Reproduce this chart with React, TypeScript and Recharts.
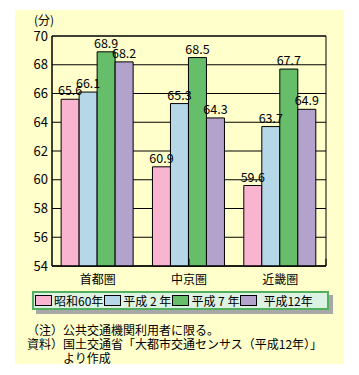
import { BarChart, Bar, XAxis, YAxis, CartesianGrid, LabelList, ReferenceArea, ReferenceLine } from 'recharts';

const regions = ['首都圏', '中京圏', '近畿圏'];
const seriesNames = ['昭和60年', '平成 2 年', '平成 7 年', '平成12年'];
const s60 = [65.6, 60.9, 59.6];
const h2 = [66.1, 65.3, 63.7];
const h7 = [68.9, 68.5, 67.7];
const h12 = [68.2, 64.3, 64.9];
const yTicks = [54, 56, 58, 60, 62, 64, 66, 68, 70];
const groupEdges = [1, 2];

const colors = ['#F9B5D0', '#B5D7E8', '#66BE6B', '#B2A2CC'];
const keys = ['s60', 'h2', 'h7', 'h12'];
const font = '"Noto Sans CJK JP", "Noto Sans", sans-serif';

const data = regions.map((name, i) => ({
  name,
  s60: s60[i],
  h2: h2[i],
  h7: h7[i],
  h12: h12[i],
}));

export default function App() {
  return (
    <div style={{ position: 'absolute', left: 0, top: 0, width: 359, height: 375, background: '#fff', fontFamily: font }}>
      {/* yellow panel */}
      <div style={{ position: 'absolute', left: 15, top: 10, width: 329, height: 354, background: '#FFFFCC' }} />

      <div style={{ position: 'absolute', left: 34, top: 13, fontSize: 12, lineHeight: '14px', color: '#000' }}>(分)</div>

      <div style={{ position: 'absolute', left: 0, top: 0 }}>
        <BarChart
          width={359}
          height={300}
          data={data}
          margin={{ top: 36, right: 33, left: 0, bottom: 10 }}
          barCategoryGap="10%"
          barGap={0}
          style={{ fontFamily: font }}
        >
          <CartesianGrid vertical={false} stroke="#000" strokeWidth={1} />
          <XAxis
            dataKey="name"
            height={24}
            tickLine={false}
            tickMargin={3}
            axisLine={{ stroke: '#000' }}
            tick={{ fontSize: 12, fill: '#000' }}
          />
          <XAxis xAxisId="sep" type="number" domain={[0, 3]} hide />
          <YAxis
            domain={[54, 70]}
            ticks={yTicks}
            width={52}
            tickSize={2}
            tickLine={false}
            axisLine={{ stroke: '#000' }}
            tick={{ fontSize: 13, fill: '#000' }}
            interval={0}
          />
          {keys.map((k, i) => (
            <Bar key={k} dataKey={k} name={seriesNames[i]} fill={colors[i]} stroke="#000" strokeWidth={1} isAnimationActive={false}>
              <LabelList dataKey={k} position="top" offset={4} style={{ fontSize: 12.5, fill: '#000' }} />
            </Bar>
          ))}
          <ReferenceArea y1={54} y2={70} fill="none" stroke="#000" strokeWidth={1} ifOverflow="visible" />
          {groupEdges.map((e) => (
            <ReferenceLine
              key={e}
              xAxisId="sep"
              segment={[{ x: e, y: 54 }, { x: e, y: 54.5 }]}
              stroke="#000"
              strokeWidth={1}
            />
          ))}
        </BarChart>
      </div>

      {/* legend */}
      <div
        style={{
          position: 'absolute',
          left: 32,
          top: 291,
          width: 293,
          height: 15,
          background: '#DCF2E2',
          border: '2px solid #52B05E',
          boxShadow: '4px 4px 0 #A8A8A8',
          display: 'flex',
          alignItems: 'center',
          fontSize: 12,
          lineHeight: '14px',
          color: '#000',
          whiteSpace: 'pre',
        }}
      >
        {seriesNames.map((n, i) => (
          <div key={n} style={{ display: 'flex', alignItems: 'center', marginLeft: 1 }}>
            <span style={{ display: 'inline-block', width: 15, height: 9, background: colors[i], border: '1px solid #000', marginRight: i === 3 ? 6 : 2 }} />
            <span>{n}</span>
          </div>
        ))}
      </div>

      {/* notes */}
      <div style={{ position: 'absolute', left: 0, top: 323, fontSize: 12, lineHeight: '14px', color: '#000' }}>
        <div style={{ display: 'flex' }}>
          <span style={{ width: 63, textAlign: 'right' }}>（注）</span>
          <span>公共交通機関利用者に限る。</span>
        </div>
        <div style={{ display: 'flex' }}>
          <span style={{ width: 63, textAlign: 'right' }}>資料）</span>
          <span>国土交通省「大都市交通センサス（平成12年）」</span>
        </div>
        <div style={{ display: 'flex' }}>
          <span style={{ width: 63 }} />
          <span>より作成</span>
        </div>
      </div>
    </div>
  );
}
